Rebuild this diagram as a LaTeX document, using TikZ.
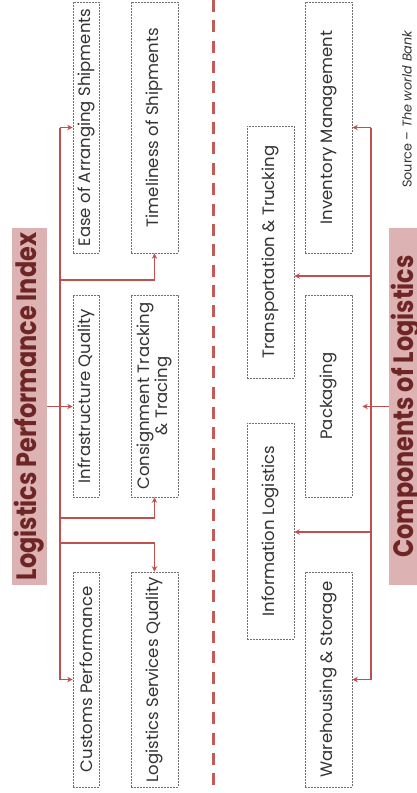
\documentclass[tikz,border=0pt]{standalone}
\usepackage{fontspec}
\setmainfont{Poppins}
\usetikzlibrary{arrows.meta}
\definecolor{arrc}{HTML}{C0504D}
\definecolor{divc}{HTML}{C45A58}
\definecolor{titfill}{HTML}{DDB2B2}
\definecolor{titc}{HTML}{6E2525}
\definecolor{boxc}{HTML}{707070}
\definecolor{txtc}{HTML}{333333}
\tikzset{
  box/.style={draw=boxc, dash pattern=on 1.8pt off 1.2pt, line width=0.6pt, fill=white,
    inner sep=0pt, text=txtc, font=\fontsize{16.5}{19}\selectfont},
  titlebox/.style={fill=titfill, inner sep=0pt, text=titc,
    font=\fontsize{28}{30}\selectfont\bfseries},
  trunk/.style={draw=arrc, line width=1.4pt},
  arr/.style={draw=arrc, line width=1.4pt, -{Stealth[length=5.5pt,width=5.5pt]}},
  divline/.style={draw=divc, line width=3pt, dash pattern=on 12pt off 8.35pt},
}
\begin{document}
\begin{tikzpicture}[x=1pt,y=-1pt]
\useasboundingbox (0,0) rectangle (417,793);
\fill[white] (0,0) rectangle (417,793);
\clip (0,0) rectangle (417,793);

% divider
\coordinate (dtop) at (213,0);
\coordinate (dbot) at (213,793);
\draw[divline] (dtop) -- (dbot);

% titles
\node[titlebox, minimum width=35pt, minimum height=357pt] (lpi) at (29.5,406.5)
  {\rotatebox{90}{\scalebox{0.855}[1]{Logistics Performance Index}}};
\node[titlebox, minimum width=35pt, minimum height=357pt] (col) at (406.5,406.5)
  {\rotatebox{90}{\scalebox{0.855}[1]{Components of Logistics}}};

% left boxes
\node[box, minimum width=26pt, minimum height=251pt] (ease) at (86,127.5)
  {\rotatebox{90}{Ease of Arranging Shipments}};
\node[box, minimum width=26pt, minimum height=202pt] (infra) at (86,396)
  {\rotatebox{90}{Infrastructure Quality}};
\node[box, minimum width=26pt, minimum height=215pt] (customs) at (86,679.5)
  {\rotatebox{90}{Customs Performance}};
\node[box, minimum width=47pt, minimum height=251pt] (time) at (154.5,127.5)
  {\rotatebox{90}{Timeliness of Shipments}};
\node[box, minimum width=47pt, minimum height=202pt] (consign) at (154.5,396)
  {\rotatebox{90}{\begin{tabular}{@{}c@{}}Consignment Tracking\\[-1pt] \& Tracing\end{tabular}}};
\node[box, minimum width=47pt, minimum height=215pt] (lsq) at (154.5,679.5)
  {\rotatebox{90}{Logistics Services Quality}};

% right boxes
\node[box, minimum width=47pt, minimum height=252pt] (trans) at (270.5,252)
  {\rotatebox{90}{Transportation \& Trucking}};
\node[box, minimum width=47pt, minimum height=216pt] (info) at (270.5,531)
  {\rotatebox{90}{Information Logistics}};
\node[box, minimum width=47pt, minimum height=251pt] (inv) at (328.5,127.5)
  {\rotatebox{90}{Inventory Management}};
\node[box, minimum width=47pt, minimum height=202pt] (pack) at (328.5,396)
  {\rotatebox{90}{Packaging}};
\node[box, minimum width=47pt, minimum height=215pt] (ware) at (328.5,679.5)
  {\rotatebox{90}{Warehousing \& Storage}};

% source
\node[inner sep=0pt, text=txtc, font=\fontsize{12.8}{14}\selectfont] (src) at (407,109)
  {\rotatebox{90}{Source -- \textit{The world Bank}}};

% left connectors
\coordinate (lt) at (60,127.5);
\coordinate (lb) at (60,679.5);
\coordinate (b1) at (60,280);
\coordinate (b2) at (60,518);
\coordinate (b3) at (60,543);
\draw[trunk] (lt) -- (lb);
\draw[arr] (lt) -- (ease.west);
\draw[arr] (lpi.east) -- (lpi.east -| infra.west);
\draw[arr] (lb) -- (customs.west);
\draw[arr] (b1) -| (time.south);
\draw[arr] (b2) -| (consign.south);
\draw[arr] (b3) -| (lsq.north);

% right connectors
\coordinate (rt) at (371,127.5);
\coordinate (rb) at (371,679.5);
\coordinate (r1) at (371,276);
\coordinate (r2) at (371,532);
\draw[trunk] (rt) -- (rb);
\draw[arr] (rt) -- (inv.east);
\draw[arr] (r1) -- (r1 -| trans.east);
\draw[arr, shorten >=10pt] (col.west) -- (col.west -| pack.east);
\draw[arr] (r2) -- (r2 -| info.east);
\draw[arr] (rb) -- (ware.east);
\end{tikzpicture}
\end{document}
